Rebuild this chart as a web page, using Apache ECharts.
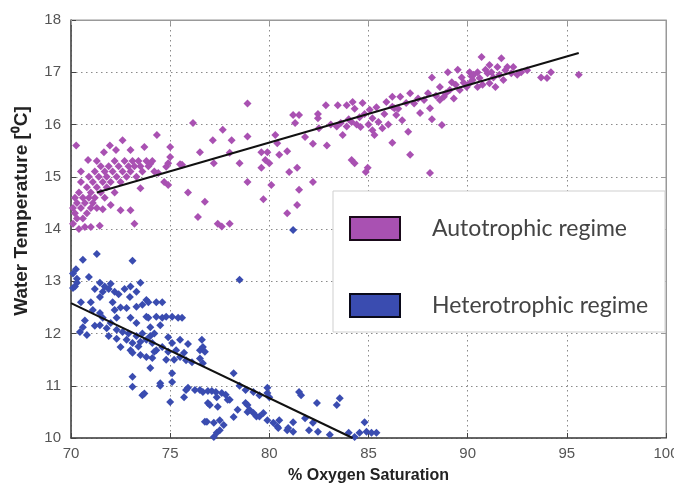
<!DOCTYPE html>
<html><head><meta charset="utf-8">
<script src="https://cdn.jsdelivr.net/npm/echarts@6/dist/echarts.min.js"></script>
<style>html,body{margin:0;padding:0;background:#fff}#c{width:674px;height:488px}</style>
</head><body><div id="c"></div>
<script>
const xTicks = [70, 75, 80, 85, 90, 95, 100];
const yTicks = [10, 11, 12, 13, 14, 15, 16, 17, 18];
const seriesNames = ['Autotrophic regime', 'Heterotrophic regime'];

const autotrophic = [
[70.1,14.1],[70.1,14.4],[70.2,14.6],[70.2,14.3],[70.3,14.5],[70.3,14.2],[70.4,14.0],[70.4,14.7],[70.5,14.4],[70.5,14.9],
[70.6,14.2],[70.6,14.6],[70.7,14.5],[70.7,14.04],[70.8,14.8],[70.8,14.3],[70.9,14.6],[70.9,15.0],[71.0,14.04],[71.0,14.4],
[71.0,14.7],[71.1,14.9],[71.1,14.5],[71.2,15.1],[71.2,14.6],[71.3,14.8],[71.3,14.4],[71.4,15.0],[71.45,14.06],[71.5,14.7],
[71.5,15.2],[71.6,14.38],[71.6,14.9],[71.7,15.1],[71.7,14.6],[71.8,15.0],[71.8,14.8],[71.9,15.2],[71.96,15.6],[72.0,14.46],
[72.0,14.9],[72.1,15.1],[72.2,15.3],[72.2,14.7],[72.27,15.51],[72.3,15.0],[72.4,15.2],[72.5,14.36],[72.5,14.9],[72.6,15.7],
[72.6,15.1],[72.7,15.3],[72.8,15.0],[72.9,15.2],[73.0,15.51],[73.0,14.36],[73.0,15.1],[73.1,15.3],[73.2,14.1],[73.2,15.2],
[73.3,15.0],[73.4,15.3],[73.5,14.78],[73.5,15.2],[73.6,15.1],[73.7,15.57],[73.8,15.3],[73.9,15.2],[74.0,15.25],[74.1,15.3],
[74.2,15.1],[74.33,15.8],[74.4,15.07],[74.7,14.9],[74.8,15.19],[74.9,15.26],[74.9,14.84],[75.0,15.57],[75.0,15.38],[75.5,15.24],
[75.6,15.23],[70.26,15.6],[70.86,15.32],[71.66,15.47],[70.5,15.1],[71.3,15.3],
[75.9,14.7],[76.15,16.03],[76.4,14.23],[76.5,15.47],[76.75,14.52],[77.15,15.7],[77.2,15.26],[77.4,14.1],[77.6,14.05],[78.0,14.1],
[77.65,15.9],[78.0,15.46],[78.1,15.7],[78.5,15.26],[78.9,16.4],[78.9,15.77],[78.9,14.9],[79.6,15.47],[79.6,15.17],[79.7,14.57],
[79.8,15.32],[79.9,15.47],[80.0,15.26],[80.1,14.84],[80.3,15.8],[80.4,15.64],[80.5,15.42],[80.9,15.49],[81.0,15.09],[80.9,14.3],
[81.2,16.18],[81.3,16.03],[81.4,15.17],[81.4,14.46],[81.5,14.75],[81.5,16.18],[81.8,15.76],[82.2,14.9],[82.2,15.63],[82.45,16.12],
[82.45,16.2],[82.5,15.93],[82.85,16.37],[82.9,15.6],[83.1,16.0],[83.4,15.96],[83.45,16.37],[83.6,16.03],[83.7,15.8],[83.9,15.96],
[83.9,16.37],[84.15,16.05],[84.15,15.32],[84.2,16.43],[84.3,16.3],[84.3,15.26],[84.55,16.14],[84.7,16.41],[84.8,16.2],[84.86,15.09],
[84.96,15.17],[85.06,16.28],[85.2,16.12],[85.2,15.89],[85.4,16.33],[85.5,16.05],[85.7,15.93],[85.9,16.43],[86.2,16.53],[86.2,15.65],
[86.3,16.31],[86.2,16.34],[86.4,16.18],[86.7,16.08],[86.6,16.53],[87.1,16.6],[86.9,16.41],[87.0,15.86],[87.1,15.42],[88.1,15.07],
[87.6,16.22],[88.1,16.31],[88.2,16.1],[88.7,15.99],[87.8,16.47],[88.2,16.9],[89.0,17.0],[88.6,16.72],[88.9,16.6],[89.4,16.76],
[89.7,16.9],[90.1,17.0],[89.6,16.66],[89.2,16.81],[90.25,16.85],[90.6,16.89],[90.7,17.29],[91.1,17.14],[91.7,17.27],[91.0,16.98],
[91.3,16.9],[91.6,16.95],[91.9,17.04],[91.1,16.79],[90.75,16.76],[91.4,16.72],[90.5,16.72],[90.1,16.79],[89.95,16.72],[92.2,16.98],
[92.5,16.95],[92.7,17.0],[93.0,17.04],[93.7,16.9],[94.0,16.89],[94.2,17.0],[95.6,16.95],[89.1,16.66],[88.6,16.47],[88.8,16.53],
[90.2,16.92],[84.0,16.1],[84.4,16.0],[84.6,15.95],[85.0,16.0],[85.3,15.8],[85.8,16.2],[86.0,16.0],[86.5,16.3],[87.3,16.4],
[87.5,16.5],[88.0,16.6],[88.4,16.55],[89.3,16.5],[89.8,16.8],[90.3,16.95],[90.9,17.05],[91.5,17.1],[91.8,16.85],[92.0,17.1],
[92.3,17.1],[89.5,17.05],[90.5,17.0],[91.2,17.0]
];

const heterotrophic = [
[70.1,13.15],[70.25,13.23],[70.6,13.41],[71.3,13.52],[73.1,13.39],[70.1,12.87],[70.3,12.97],[70.9,13.08],[71.46,12.97],[71.7,12.9],
[71.9,12.85],[72.0,12.95],[72.2,12.8],[71.6,12.8],[71.2,12.85],[72.4,12.75],[71.46,12.7],[72.97,12.7],[73.5,12.97],[73.8,12.64],
[74.3,12.6],[73.3,12.51],[72.8,12.49],[73.8,12.32],[74.3,12.32],[74.8,12.32],[75.1,12.32],[75.6,12.3],[74.0,12.12],[74.5,12.16],
[72.3,12.3],[71.46,12.39],[71.1,12.45],[70.6,12.12],[70.45,12.03],[70.8,11.97],[71.46,12.16],[71.8,12.1],[72.3,12.07],[72.6,12.03],
[72.8,11.88],[73.1,11.82],[73.5,11.84],[73.8,11.88],[74.1,11.82],[74.3,11.68],[74.6,11.74],[74.9,11.65],[75.3,11.68],[75.5,11.55],
[75.1,11.82],[74.9,11.93],[75.5,11.88],[75.7,11.63],[75.8,11.49],[76.1,11.45],[76.5,11.52],[76.6,11.88],[76.5,11.68],[76.65,11.74],
[73.1,11.63],[73.5,11.59],[73.8,11.55],[74.1,11.53],[73.0,11.68],[72.5,11.74],[74.0,11.34],[73.1,11.17],[73.1,10.98],[73.6,10.82],
[74.5,11.05],[75.1,11.24],[75.1,11.07],[75.0,10.69],[75.7,10.78],[75.9,10.96],[76.5,10.92],[76.9,10.9],[77.1,10.9],[77.3,10.88],
[76.9,10.67],[77.35,10.78],[77.6,10.86],[77.8,10.83],[78.0,10.73],[78.2,11.24],[78.5,11.0],[78.8,10.92],[79.2,10.88],[79.5,10.82],
[79.9,10.96],[80.0,10.78],[76.85,10.31],[77.2,10.29],[77.5,10.34],[77.7,10.25],[77.35,10.1],[77.2,10.02],[78.2,10.4],[78.4,10.54],
[78.9,10.63],[79.0,10.54],[79.2,10.48],[79.35,10.41],[79.7,10.48],[79.9,10.34],[80.2,10.29],[80.4,10.22],[80.5,10.34],[80.9,10.15],
[81.2,10.3],[81.5,10.88],[81.8,10.38],[82.2,10.29],[82.4,10.67],[82.45,10.12],[83.05,10.06],[83.4,10.63],[78.5,13.03],[81.2,13.98],
[76.65,11.43],[76.75,11.65],[79.9,10.86],[81.6,10.82],[83.55,10.76],[82.0,10.15],[84.0,10.1],[84.3,10.02],[84.55,10.1],[84.8,10.3],
[84.9,10.12],[85.15,10.1],[85.4,10.1],[77.9,10.73],[77.4,10.6],[77.0,10.63],[78.8,10.67],[78.9,10.5],[79.5,10.41],[80.45,10.19],
[80.95,10.19],[81.2,10.12],[77.5,10.15],[74.5,11.0],[73.7,10.85],[75.8,10.92],[76.25,10.92],[76.65,10.88],[76.75,10.31],[70.5,12.6],
[70.3,13.05],[72.1,12.6],[72.5,12.5],[73.0,12.3],[73.3,12.2],[73.6,12.0],[74.0,11.95],[72.0,12.2],[71.6,12.3],[72.9,12.0],
[73.3,11.95],[73.9,12.3],[74.6,12.3],[74.2,12.0],[72.2,12.45],[73.0,12.9],[73.3,12.8],[72.7,12.85],[71.0,12.6],[70.2,12.9],
[72.3,11.9],[74.8,11.5],[75.2,11.5],[75.4,12.3],[74.6,12.6],[73.9,12.6],[73.6,12.55],[70.7,12.25],[71.2,12.15],[71.9,11.95],
[75.9,11.8],[74.2,11.65],[73.4,11.75]
];

const autoTrend = [[71.3, 14.7], [95.6, 17.37]];
const heteroTrend = [[70.0, 12.58], [84.2, 10.0]];

const purple = '#a951b2';
const blue = '#3a4cb0';

const chart = echarts.init(document.getElementById('c'), null, {renderer: 'canvas'});
const splitStyle = {show: true, lineStyle: {color: '#8a8a8a', type: [1.5, 3.5], width: 1}};
const labelStyle = {color: '#555', fontSize: 15, fontFamily: 'Liberation Sans'};
chart.setOption({
  animation: false,
  backgroundColor: '#fff',
  grid: {left: 71, right: 8, top: 20, bottom: 50, show: true, borderColor: '#999', borderWidth: 1, outerBoundsMode: 'none', containLabel: false},
  xAxis: [{
    type: 'value', min: xTicks[0], max: xTicks[xTicks.length - 1], interval: 5,
    name: '% Oxygen Saturation', nameLocation: 'middle', nameGap: 30,
    nameTextStyle: {fontSize: 16, fontWeight: 'bold', color: '#222', fontFamily: 'Liberation Sans'},
    axisLine: {show: true, lineStyle: {color: '#444', width: 1.5}},
    axisTick: {show: true, inside: true, length: 5, lineStyle: {color: '#444'}},
    axisLabel: Object.assign({margin: 8, showMaxLabel: true}, labelStyle),
    splitLine: splitStyle
  }, {
    type: 'value', position: 'top', min: xTicks[0], max: xTicks[xTicks.length - 1], interval: 5,
    axisLine: {show: true, lineStyle: {color: '#999'}},
    axisTick: {show: true, inside: true, length: 5, lineStyle: {color: '#999'}},
    axisLabel: {show: false}, splitLine: {show: false}
  }],
  yAxis: [{
    type: 'value', min: yTicks[0], max: yTicks[yTicks.length - 1], interval: 1,
    name: 'Water Temperature [\u2070C]', nameLocation: 'middle', nameGap: 40, nameRotate: 90,
    nameTextStyle: {fontSize: 19, fontWeight: 'bold', color: '#222', fontFamily: 'Liberation Sans', padding: [0, 0, 0, 36]},
    axisLine: {show: true, lineStyle: {color: '#444', width: 1.5}},
    axisTick: {show: true, inside: true, length: 5, lineStyle: {color: '#444'}},
    axisLabel: Object.assign({margin: 10}, labelStyle),
    splitLine: splitStyle
  }, {
    type: 'value', position: 'right', min: yTicks[0], max: yTicks[yTicks.length - 1], interval: 1,
    axisLine: {show: true, lineStyle: {color: '#999'}},
    axisTick: {show: true, inside: true, length: 5, lineStyle: {color: '#999'}},
    axisLabel: {show: false}, splitLine: {show: false}
  }],
  legend: {
    orient: 'vertical', left: 344, top: 211, itemWidth: 50, itemHeight: 23, itemGap: 52, z: 20,
    textStyle: {fontSize: 23, fontFamily: 'Lato', color: '#444', padding: [0, 0, 0, 27]},
    data: [
      {name: seriesNames[0], icon: 'rect', itemStyle: {color: purple, borderColor: '#1a0a1a', borderWidth: 2}},
      {name: seriesNames[1], icon: 'rect', itemStyle: {color: blue, borderColor: '#0a0a1a', borderWidth: 2}}
    ]
  },
  graphic: [{
    type: 'rect', z: 10, silent: true,
    shape: {x: 333, y: 191, width: 332, height: 141},
    style: {fill: '#fff', stroke: '#cfcfcf', lineWidth: 1}
  }],
  series: [
    {name: seriesNames[0], type: 'scatter', symbol: 'diamond', symbolSize: 8, data: autotrophic, itemStyle: {color: purple, opacity: 1}, z: 3},
    {name: seriesNames[1], type: 'scatter', symbol: 'diamond', symbolSize: 8, data: heterotrophic, itemStyle: {color: blue, opacity: 1}, z: 3},
    {name: 'autoTrend', type: 'line', data: autoTrend, symbol: 'none', lineStyle: {color: '#111', width: 2}, z: 4},
    {name: 'heteroTrend', type: 'line', data: heteroTrend, symbol: 'none', lineStyle: {color: '#111', width: 2}, z: 4}
  ]
});
</script></body></html>
